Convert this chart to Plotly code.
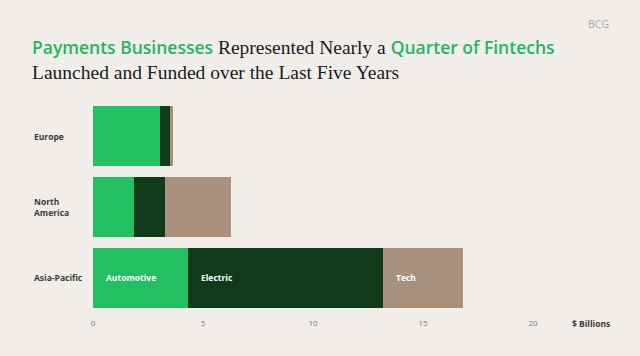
import plotly.graph_objects as go

regions = ["Europe", "North America", "Asia-Pacific"]
region_labels = ["Europe", "North<br>America", "Asia-Pacific"]
series_names = ["Automotive", "Electric", "Tech"]
automotive = [3.06, 1.85, 4.33]
electric = [0.46, 1.40, 8.85]
tech = [0.13, 3.00, 3.62]
series_values = [automotive, electric, tech]
colors = ["#22c063", "#0f3b1b", "#a8917c"]
x_ticks = [0, 5, 10, 15, 20]

BG = "#f1eeea"
L, R, T, B = 93, 107, 101, 43
pw, ph = 640 - L - R, 356 - T - B

fig = go.Figure()
for name, vals, col in zip(series_names, series_values, colors):
    fig.add_trace(go.Bar(
        y=regions, x=vals, name=name, orientation="h",
        marker=dict(color=col, line=dict(width=0)),
        hoverinfo="x+name",
    ))

# series labels inside the last (Asia-Pacific) bar
base = 0
for name, vals in zip(series_names, series_values):
    fig.add_annotation(x=base, y=regions[-1], xref="x", yref="y", text="<b>" + name + "</b>",
                       showarrow=False, xanchor="left", xshift=11,
                       font=dict(family="Open Sans", size=8.5, color="#ffffff"))
    base += vals[-1]

# category labels, left aligned
for r, lab in zip(regions, region_labels):
    fig.add_annotation(x=(32 - L) / pw, y=r, xref="paper", yref="y", text="<b>" + lab + "</b>",
                       showarrow=False, xanchor="left", align="left",
                       font=dict(family="Open Sans", size=8.5, color="#3a3a3a"))

fig.add_annotation(x=(570 - L) / pw, y=0, xref="paper", yref="paper", yanchor="top", yshift=-3,
                   text="<b>$ Billions</b>", showarrow=False, xanchor="left",
                   font=dict(family="Open Sans", size=8.5, color="#3a3a3a"))

green = "#21b85c"
sans = "font-family:Open Sans;font-weight:600;font-size:17.5px;color:%s" % green
title = ("<span style='%s'>Payments Businesses</span> "
         "Represented Nearly a "
         "<span style='%s'>Quarter of Fintechs</span>"
         "<br>Launched and Funded over the Last Five Years") % (sans, sans)
fig.add_annotation(x=(30 - L) / pw, y=1 + (T - 33) / ph, xref="paper", yref="paper",
                   text=title, showarrow=False, xanchor="left", yanchor="top", align="left",
                   font=dict(family="Liberation Serif", size=19.5, color="#1a1a1a"))
fig.add_annotation(x=(598 - L) / pw, y=1 + (T - 24) / ph, text="BCG", showarrow=False,
                   xref="paper", yref="paper", xanchor="center", yanchor="middle",
                   font=dict(family="Open Sans", size=10.5, color="#a6a6a6"))

fig.update_layout(
    width=640, height=356, paper_bgcolor=BG, plot_bgcolor=BG,
    barmode="stack", bargap=0.155, showlegend=False,
    margin=dict(l=L, r=R, t=T, b=B),
    xaxis=dict(range=[0, 20], tickvals=x_ticks, showgrid=False, zeroline=False,
               showline=False, ticks="", ticklabelstandoff=4,
               tickfont=dict(family="Open Sans", size=8, color="#777777")),
    yaxis=dict(categoryorder="array", categoryarray=regions[::-1], showticklabels=False,
               showgrid=False, zeroline=False, showline=False),
)
fig.write_html("out.html", config={"displayModeBar": False},
               post_script="document.body.style.margin='0';document.body.style.background='%s';" % BG)
